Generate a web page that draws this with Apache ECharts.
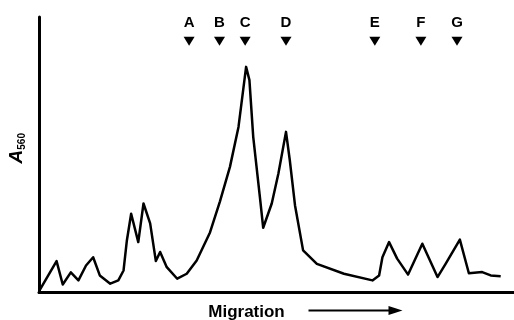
<!DOCTYPE html>
<html>
<head>
<meta charset="utf-8">
<script src="https://cdn.jsdelivr.net/npm/echarts@6/dist/echarts.min.js"></script>
<style>
  html, body { margin: 0; padding: 0; background: #fff; }
  #chart { width: 514px; height: 320px; }
</style>
</head>
<body>
<div id="chart"></div>
<script>
// densitometer trace: migration (arbitrary units) vs A560
const migration = [
    0.2, 3.7, 5.0, 6.7, 8.3, 9.9, 11.4, 12.8, 15.0, 16.7,
    17.8, 18.5, 19.4, 20.9, 22.0, 23.4, 24.6, 25.5, 26.9, 29.1,
    31.1, 33.2, 36.0, 38.1, 40.2, 42.0, 43.6, 44.3, 45.1, 46.5,
    47.2, 49.0, 50.4, 52.0, 52.8, 53.9, 55.6, 58.5, 64.2, 70.2,
    71.6, 72.3, 73.7, 75.4, 77.7, 80.7, 83.9, 85.6, 88.6, 90.5,
    93.3, 95.1, 97.2
];
const absorbance = [
    0.01, 0.114, 0.029, 0.073, 0.044, 0.098, 0.128, 0.062, 0.032, 0.044,
    0.08, 0.189, 0.286, 0.183, 0.323, 0.251, 0.114, 0.147, 0.092, 0.05,
    0.068, 0.116, 0.218, 0.331, 0.456, 0.601, 0.819, 0.771, 0.565, 0.347,
    0.235, 0.323, 0.432, 0.583, 0.48, 0.316, 0.153, 0.104, 0.068, 0.044,
    0.062, 0.128, 0.183, 0.123, 0.065, 0.177, 0.056, 0.104, 0.192, 0.07,
    0.074, 0.062, 0.059
];

// marker positions (A..G) along migration axis
const markerNames = ["A", "B", "C", "D", "E", "F", "G"];
const markerPos = [31.6, 38.0, 43.4, 52.0, 70.7, 80.4, 88.0];
const MARKER_LEVEL = 0.912;

const chart = echarts.init(document.getElementById("chart"));

chart.setOption({
    backgroundColor: "#fff",
    animation: false,
    grid: { left: 39, right: 0, top: 17, bottom: 27.5, containLabel: false, outerBoundsMode: "none" },

    xAxis: {
        type: "value",
        min: 0,
        max: 100,
        axisLine: { lineStyle: { color: "#000", width: 3 } },
        axisTick: { show: false },
        axisLabel: { show: false },
        splitLine: { show: false },
        name: "Migration",
        nameLocation: "middle",
        nameGap: 11,
        nameTextStyle: {
            color: "#000",
            fontFamily: "Liberation Sans",
            fontWeight: "bold",
            fontSize: 17,
            padding: [0, 60, 0, 0]
        }
    },

    yAxis: {
        type: "value",
        min: 0,
        max: 1,
        axisLine: { lineStyle: { color: "#000", width: 3 } },
        axisTick: { show: false },
        axisLabel: { show: false },
        splitLine: { show: false },
        name: "{a|A}{s|560}",
        nameLocation: "middle",
        nameRotate: 90,
        nameGap: 12,
        nameTextStyle: {
            padding: [0, 0, 0, 13],
            rich: {
                a: {
                    fontFamily: "Liberation Sans",
                    fontSize: 19,
                    fontStyle: "italic",
                    fontWeight: "bold",
                    color: "#000",
                    lineHeight: 20
                },
                s: {
                    fontFamily: "Liberation Sans",
                    fontSize: 10,
                    fontWeight: "bold",
                    color: "#000",
                    lineHeight: 8,
                    verticalAlign: "bottom"
                }
            }
        }
    },

    series: [
        {
            type: "line",
            data: migration.map((m, i) => [m, absorbance[i]]),
            showSymbol: false,
            lineStyle: { color: "#000", width: 2.5, join: "round" }
        },
        {
            type: "scatter",
            data: markerPos.map((p, i) => ({ value: [p, MARKER_LEVEL], name: markerNames[i] })),
            symbol: "triangle",
            symbolRotate: 180,
            symbolSize: [11, 9],
            itemStyle: { color: "#000", opacity: 1 },
            label: {
                show: true,
                position: "top",
                distance: 6,
                formatter: "{b}",
                color: "#000",
                fontFamily: "Liberation Sans",
                fontWeight: "bold",
                fontSize: 15
            }
        }
    ],

    graphic: [
        {
            type: "group",
            left: 306,
            top: 306,
            children: [
                { type: "line", shape: { x1: 0, y1: 6, x2: 84, y2: 6 }, style: { stroke: "#000", lineWidth: 2 } },
                { type: "polygon", shape: { points: [[80, 1.5], [94, 6], [80, 10.5]] }, style: { fill: "#000" } }
            ]
        }
    ]
});
</script>
</body>
</html>
